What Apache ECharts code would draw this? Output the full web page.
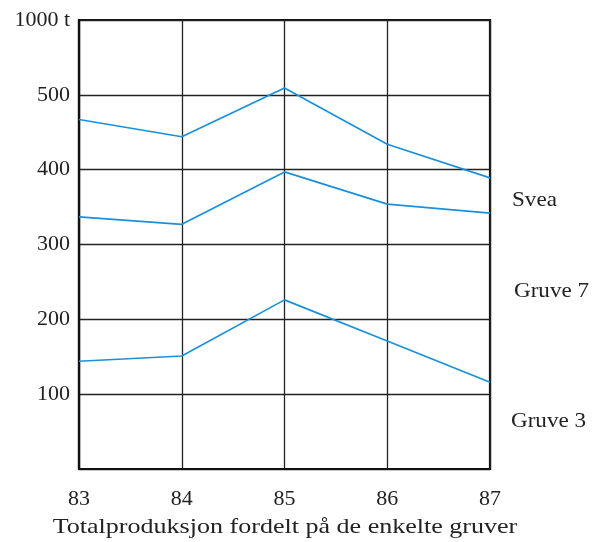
<!DOCTYPE html>
<html><head><meta charset="utf-8">
<script src="https://cdn.jsdelivr.net/npm/echarts@6/dist/echarts.min.js"></script>
<style>html,body{margin:0;padding:0;background:#fff}#c{width:592px;height:542px}</style>
</head><body><div id="c"></div>
<script>
const years = ['83','84','85','86','87'];
const gruve3 = [144, 151, 226, 171, 116];
const gruve7 = [193, 176, 171, 183, 226];
const svea = [130, 117, 112, 80, 47];
const seriesNames = ['Gruve 3', 'Gruve 7', 'Svea'];
const yTickLabels = {0: '', 100: '100', 200: '200', 300: '300', 400: '400', 500: '500', 600: '1000 t'};
const xTitle = 'Totalproduksjon fordelt på de enkelte gruver';

const FONT = '"Liberation Serif", "DejaVu Serif", serif';
const chart = echarts.init(document.getElementById('c'), null, {renderer: 'canvas'});
const lineStyle = {color: '#1a90dc', width: 1.7};
const mk = (name, data) => ({
  name, type: 'line', stack: 'total', data, symbol: 'none',
  lineStyle, itemStyle: {color: '#1a90dc'}, silent: true
});
chart.setOption({
  animation: false,
  backgroundColor: '#fff',
  grid: {left: 79, right: 102, top: 20, bottom: 73, show: true, borderColor: '#111', borderWidth: 2.2, backgroundColor: 'transparent'},
  xAxis: {
    type: 'category', data: years, boundaryGap: false,
    axisLine: {show: true, lineStyle: {color: '#111', width: 2.2}},
    axisTick: {show: false},
    axisLabel: {fontFamily: FONT, fontSize: 22, color: '#222', margin: 19},
    splitLine: {show: true, lineStyle: {color: '#222', width: 1.3}}
  },
  yAxis: {
    type: 'value', min: 0, max: 600, interval: 100,
    axisLine: {show: true, lineStyle: {color: '#111', width: 2.2}},
    axisTick: {show: false},
    axisLabel: {fontFamily: FONT, fontSize: 22, color: '#222', margin: 9,
      formatter: v => yTickLabels[v] !== undefined ? yTickLabels[v] : String(v)},
    splitLine: {show: true, lineStyle: {color: '#222', width: 1.3}}
  },
  series: [mk(seriesNames[0], gruve3), mk(seriesNames[1], gruve7), mk(seriesNames[2], svea)],
  graphic: [
    {type: 'text', x: 512, y: 200, scaleX: 1.05, style: {text: seriesNames[2], font: '22px ' + FONT, fill: '#222', verticalAlign: 'middle'}},
    {type: 'text', x: 514, y: 291, scaleX: 1.05, style: {text: seriesNames[1], font: '22px ' + FONT, fill: '#222', verticalAlign: 'middle'}},
    {type: 'text', x: 511, y: 421, scaleX: 1.05, style: {text: seriesNames[0], font: '22px ' + FONT, fill: '#222', verticalAlign: 'middle'}},
    {type: 'text', x: 285, y: 527, scaleX: 1.24, style: {text: xTitle, font: '21px ' + FONT, fill: '#222', align: 'center', verticalAlign: 'middle'}}
  ]
});
</script></body></html>
